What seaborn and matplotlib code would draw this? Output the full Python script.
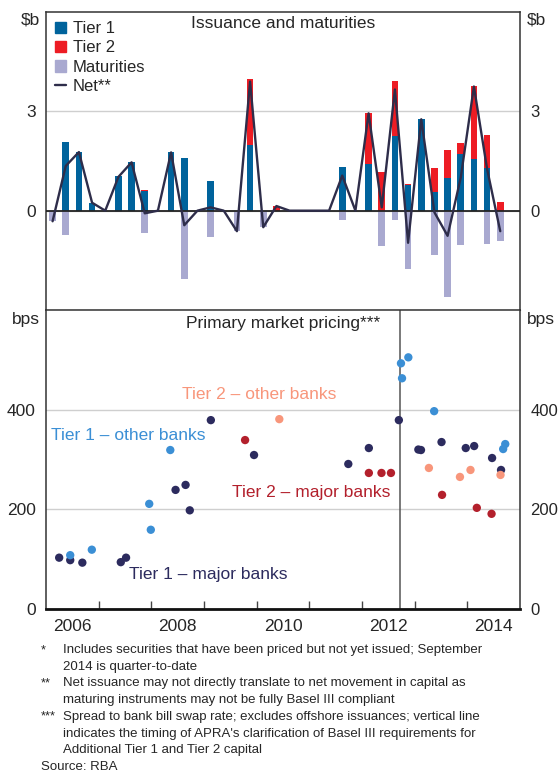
import matplotlib
matplotlib.use("Agg")
import matplotlib.pyplot as plt
from matplotlib.patches import Patch
from matplotlib.lines import Line2D
import numpy as np
import pandas as pd
import seaborn as sns

sns.set_style("white")
plt.rcParams['font.family'] = ['Liberation Sans', 'DejaVu Sans']

# ---- issuance and maturities, quarterly, $b (2006Q1 .. 2014Q3) ----
quarters = pd.period_range("2006Q1", "2014Q3", freq="Q")
tier1 = [0, 2.07, 1.77, 0.24, 0, 1.06, 1.46, 0.58, 0, 1.76, 1.60, 0,
         0.90, 0, 0, 1.98, 0, 0, 0, 0, 0, 0, 1.32, 0,
         1.40, 0, 2.25, 0.79, 2.76, 0.57, 0.98, 1.71, 1.57, 1.28, 0]
tier2 = [0, 0, 0, 0, 0, 0, 0, 0.03, 0, 0, 0, 0,
         0, 0, 0, 2.00, 0, 0.13, 0, 0, 0, 0, 0, 0,
         1.54, 1.17, 1.68, 0.03, 0, 0.72, 0.85, 0.34, 2.21, 1.00, 0.27]
maturities = [-0.32, -0.72, 0, 0, 0, -0.05, 0, -0.68, 0, 0, -2.06, 0,
              -0.80, 0, -0.62, 0, -0.50, 0, 0, 0, 0, 0, -0.27, 0,
              0, -1.08, -0.27, -1.76, 0, -1.34, -2.60, -1.05, 0, -1.01, -0.92]
net = [-0.32, 1.35, 1.77, 0.24, 0, 1.02, 1.46, -0.08, 0, 1.76, -0.44, 0,
       0.10, 0, -0.62, 3.90, -0.50, 0.14, 0, 0, 0, 0, 1.06, 0,
       2.94, 0.10, 3.66, -0.97, 2.76, -0.05, -0.76, 1.00, 3.75, 1.26, -0.62]

# ---- primary market pricing, bps (date as decimal year) ----
t1_major_date = [2006.25, 2006.46, 2006.69, 2007.42, 2007.52, 2008.46, 2008.65,
                 2008.73, 2009.13, 2009.95, 2011.74, 2012.13, 2012.70, 2013.07,
                 2013.12, 2013.51, 2013.97, 2014.13, 2014.47, 2014.64]
t1_major_bps = [103, 98, 93, 94, 103, 239, 249, 198, 379, 309, 291, 323, 379,
                320, 319, 335, 323, 327, 303, 279]
t1_other_date = [2006.46, 2006.87, 2007.96, 2007.99, 2008.36, 2012.74, 2012.76,
                 2012.88, 2013.37, 2014.68, 2014.72]
t1_other_bps = [108, 119, 211, 159, 319, 493, 463, 505, 397, 321, 331]
t2_major_date = [2009.78, 2012.13, 2012.37, 2012.55, 2013.52, 2014.18, 2014.46]
t2_major_bps = [339, 273, 273, 273, 229, 203, 191]
t2_other_date = [2010.43, 2013.27, 2013.86, 2014.06, 2014.63]
t2_other_bps = [381, 283, 265, 279, 269]
apra_date = 2012.73

C_T1, C_T2, C_MAT, C_NET = "#00639c", "#ed1c24", "#a9a9d0", "#2e2d4a"
pal = {"Tier 1 – major banks": "#2c2b5e", "Tier 1 – other banks": "#3b8fd5",
       "Tier 2 – major banks": "#b3202c", "Tier 2 – other banks": "#f8967b"}

xq = np.array([q.year + (q.quarter - 1) / 4 + 0.125 for q in quarters])
total = np.array(tier1) + np.array(tier2)

W, H = 558, 772
fig = plt.figure(figsize=(W / 100, H / 100), dpi=100)
ax1 = fig.add_axes([46 / W, 1 - 310 / H, 474 / W, 298 / H])
ax2 = fig.add_axes([46 / W, 1 - 609 / H, 474 / W, 299 / H])

# top panel: tier 2 drawn as the full stack, tier 1 over it
bar_kw = dict(native_scale=True, width=0.5, errorbar=None, saturation=1,
              linewidth=0, ax=ax1)
sns.barplot(x=xq, y=total, color=C_T2, **bar_kw)
sns.barplot(x=xq, y=tier1, color=C_T1, **bar_kw)
sns.barplot(x=xq, y=maturities, color=C_MAT, **bar_kw)
ax1.axhline(0, color="#222222", lw=1.3, zorder=3)
sns.lineplot(x=xq, y=net, color=C_NET, lw=1.7, estimator=None, ax=ax1, zorder=4)
ax1.set(xlim=(2006, 2015), ylim=(-3, 6), xlabel="", ylabel="")
ax1.set_yticks([0, 3])
ax1.yaxis.grid(True, color="#cfcfcf", lw=1)
ax1.set_axisbelow(True)
ax1.tick_params(axis="x", bottom=False, labelbottom=False)
ax1.text(0.5, 0.96, "Issuance and maturities", transform=ax1.transAxes,
         ha="center", va="center", fontsize=12.5)
handles = [Patch(color=C_T1, label="Tier 1"), Patch(color=C_T2, label="Tier 2"),
           Patch(color=C_MAT, label="Maturities"),
           Line2D([], [], color=C_NET, lw=1.7, label="Net**")]
ax1.legend(handles=handles, loc="upper left", bbox_to_anchor=(-0.005, 1.008),
           frameon=False, fontsize=12, handlelength=0.65, handleheight=0.7,
           handletextpad=0.4, labelspacing=0.25, borderaxespad=0.3)

# bottom panel
pts = pd.concat([
    pd.DataFrame({"date": t1_major_date, "bps": t1_major_bps, "series": "Tier 1 – major banks"}),
    pd.DataFrame({"date": t1_other_date, "bps": t1_other_bps, "series": "Tier 1 – other banks"}),
    pd.DataFrame({"date": t2_major_date, "bps": t2_major_bps, "series": "Tier 2 – major banks"}),
    pd.DataFrame({"date": t2_other_date, "bps": t2_other_bps, "series": "Tier 2 – other banks"}),
])
sns.scatterplot(data=pts, x="date", y="bps", hue="series", palette=pal, s=36,
                linewidth=0, legend=False, ax=ax2, zorder=3)
ax2.axvline(apra_date, color="#555555", lw=1.1, zorder=2)
ax2.set(xlim=(2006, 2015), ylim=(0, 600), xlabel="", ylabel="")
ax2.set_yticks([0, 200, 400])
ax2.yaxis.grid(True, color="#cfcfcf", lw=1)
ax2.set_axisbelow(True)
ax2.set_xticks(range(2007, 2015))
ax2.set_xticklabels([])
ax2.set_xticks([2006.5, 2008.5, 2010.5, 2012.5, 2014.5], minor=True)
ax2.set_xticklabels(["2006", "2008", "2010", "2012", "2014"], minor=True)
ax2.tick_params(axis="x", which="major", direction="in", length=6, width=1,
                color="#444444", bottom=True)
ax2.tick_params(axis="x", which="minor", length=0, labelsize=12.5, pad=7)
ax2.text(0.5, 0.955, "Primary market pricing***", transform=ax2.transAxes,
         ha="center", va="center", fontsize=12.5)

for ax in (ax1, ax2):
    ax.tick_params(axis="y", left=False, right=False, labelright=True,
                   labelsize=12.5)
    # right-hand labels sit a little closer to the frame
    for t in ax.yaxis.get_major_ticks():
        t.label2.set_fontsize(12)
        t.set_pad(4)

lab_pos = {"Tier 1 – other banks": (2006.09, 348, "left"),
           "Tier 2 – other banks": (2010.05, 430, "center"),
           "Tier 2 – major banks": (2011.04, 233, "center"),
           "Tier 1 – major banks": (2009.08, 69, "center")}
for name, (x, y, ha) in lab_pos.items():
    ax2.text(x, y, name, color=pal[name], fontsize=12.5, ha=ha, va="center")

for ax in (ax1, ax2):
    for side in ("left", "right", "top"):
        ax.spines[side].set_color("#333333")
        ax.spines[side].set_linewidth(1.1)
ax1.spines["bottom"].set_color("#333333")
ax2.spines["bottom"].set_color("#111111")
ax2.spines["bottom"].set_linewidth(2)

# unit labels
fig.text(40 / W, 1 - 20 / H, "$b", ha="right", va="center", fontsize=12.5)
fig.text(527 / W, 1 - 20 / H, "$b", ha="left", va="center", fontsize=12.5)
fig.text(40 / W, 1 - 320 / H, "bps", ha="right", va="center", fontsize=12.5)
fig.text(527 / W, 1 - 320 / H, "bps", ha="left", va="center", fontsize=12.5)

# footnotes
notes = [("*", "Includes securities that have been priced but not yet issued; September"),
         ("", "2014 is quarter-to-date"),
         ("**", "Net issuance may not directly translate to net movement in capital as"),
         ("", "maturing instruments may not be fully Basel III compliant"),
         ("***", "Spread to bank bill swap rate; excludes offshore issuances; vertical line"),
         ("", "indicates the timing of APRA's clarification of Basel III requirements for"),
         ("", "Additional Tier 1 and Tier 2 capital")]
for i, (mark, txt) in enumerate(notes):
    y = 1 - (650 + i * 16.7) / H
    fig.text(41 / W, y, mark, ha="left", va="center", fontsize=9.3)
    fig.text(63 / W, y, txt, ha="left", va="center", fontsize=9.5)
fig.text(41 / W, 1 - 767 / H, "Source: RBA", ha="left", va="center", fontsize=9.5)

fig.savefig("out.png", dpi=100)
